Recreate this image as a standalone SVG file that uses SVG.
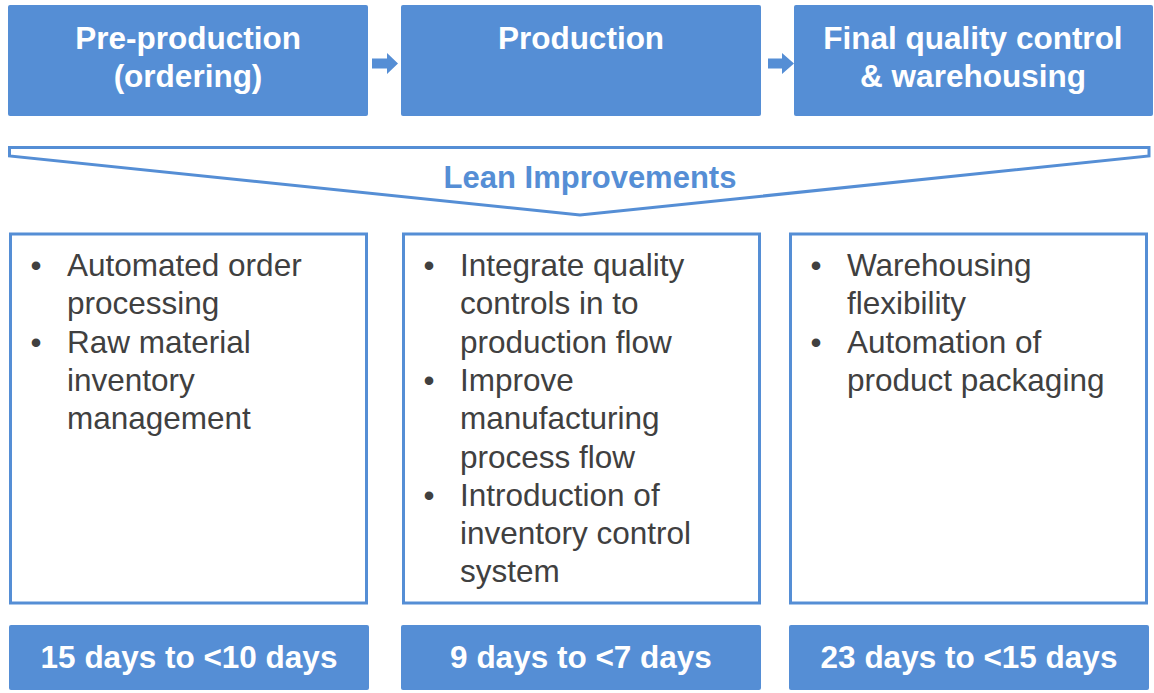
<svg xmlns="http://www.w3.org/2000/svg" width="1154" height="693" viewBox="0 0 1154 693">
  <style>
    .stage { fill: #558ed5; }
    .panel { fill: #ffffff; stroke: #558ed5; stroke-width: 3; }
    .head { font-family: "Liberation Sans", Arial, sans-serif; font-weight: bold; font-size: 31.5px; fill: #ffffff; text-anchor: middle; }
    .item { font-family: "Liberation Sans", Arial, sans-serif; font-size: 31.5px; fill: #404040; }
    .dot { font-family: "Liberation Sans", Arial, sans-serif; font-size: 31.5px; fill: #404040; text-anchor: middle; }
    .lean { font-family: "Liberation Sans", Arial, sans-serif; font-weight: bold; font-size: 31px; fill: #558ed5; text-anchor: middle; }
    .flow { fill: #558ed5; }
  </style>

  <!-- process stages -->
  <g id="stage-preproduction">
    <rect class="stage" x="8" y="5" width="360" height="111" rx="2"/>
    <text class="head" x="188" y="49">Pre-production</text>
    <text class="head" x="188" y="87">(ordering)</text>
  </g>
  <g id="stage-production">
    <rect class="stage" x="401" y="5" width="360" height="111" rx="2"/>
    <text class="head" x="581" y="49">Production</text>
  </g>
  <g id="stage-final">
    <rect class="stage" x="794" y="5" width="359" height="111" rx="2"/>
    <text class="head" x="973" y="49">Final quality control</text>
    <text class="head" x="973" y="87">&amp; warehousing</text>
  </g>

  <!-- flow arrows between stages -->
  <g id="connectors">
    <polygon class="flow" points="372,58.5 387,58.5 387,53 398,63.5 387,74 387,68.5 372,68.5"/>
    <polygon class="flow" points="768,58.5 782,58.5 782,53 794,63.5 782,74 782,68.5 768,68.5"/>
  </g>

  <!-- lean improvements chevron -->
  <g id="lean-improvements">
    <polygon points="9.5,147.5 1149,147.5 1149,156 580,215 9.5,156" fill="#ffffff" stroke="#558ed5" stroke-width="3" stroke-linejoin="miter"/>
    <text class="lean" x="590" y="188">Lean Improvements</text>
  </g>

  <!-- improvement lists -->
  <g id="list-preproduction">
    <rect class="panel" x="10.5" y="234" width="356" height="369"/>
    <text class="dot" x="36" y="276">•</text>
    <text class="item" x="67" y="276">Automated order</text>
    <text class="item" x="67" y="314.3">processing</text>
    <text class="dot" x="36" y="352.6">•</text>
    <text class="item" x="67" y="352.6">Raw material</text>
    <text class="item" x="67" y="390.9">inventory</text>
    <text class="item" x="67" y="429.2">management</text>
  </g>
  <g id="list-production">
    <rect class="panel" x="403.5" y="234" width="356" height="369"/>
    <text class="dot" x="429" y="276">•</text>
    <text class="item" x="460" y="276">Integrate quality</text>
    <text class="item" x="460" y="314.3">controls in to</text>
    <text class="item" x="460" y="352.6">production flow</text>
    <text class="dot" x="429" y="390.9">•</text>
    <text class="item" x="460" y="390.9">Improve</text>
    <text class="item" x="460" y="429.2">manufacturing</text>
    <text class="item" x="460" y="467.5">process flow</text>
    <text class="dot" x="429" y="505.8">•</text>
    <text class="item" x="460" y="505.8">Introduction of</text>
    <text class="item" x="460" y="544.1">inventory control</text>
    <text class="item" x="460" y="582.4">system</text>
  </g>
  <g id="list-final">
    <rect class="panel" x="790.5" y="234" width="356" height="369"/>
    <text class="dot" x="816" y="276">•</text>
    <text class="item" x="847" y="276">Warehousing</text>
    <text class="item" x="847" y="314.3">flexibility</text>
    <text class="dot" x="816" y="352.6">•</text>
    <text class="item" x="847" y="352.6">Automation of</text>
    <text class="item" x="847" y="390.9">product packaging</text>
  </g>

  <!-- lead time results -->
  <g id="result-preproduction">
    <rect class="stage" x="9" y="625" width="360" height="65" rx="2"/>
    <text class="head" x="189" y="668">15 days to &lt;10 days</text>
  </g>
  <g id="result-production">
    <rect class="stage" x="401" y="625" width="360" height="65" rx="2"/>
    <text class="head" x="581" y="668">9 days to &lt;7 days</text>
  </g>
  <g id="result-final">
    <rect class="stage" x="789" y="625" width="360" height="65" rx="2"/>
    <text class="head" x="969" y="668">23 days to &lt;15 days</text>
  </g>
</svg>
